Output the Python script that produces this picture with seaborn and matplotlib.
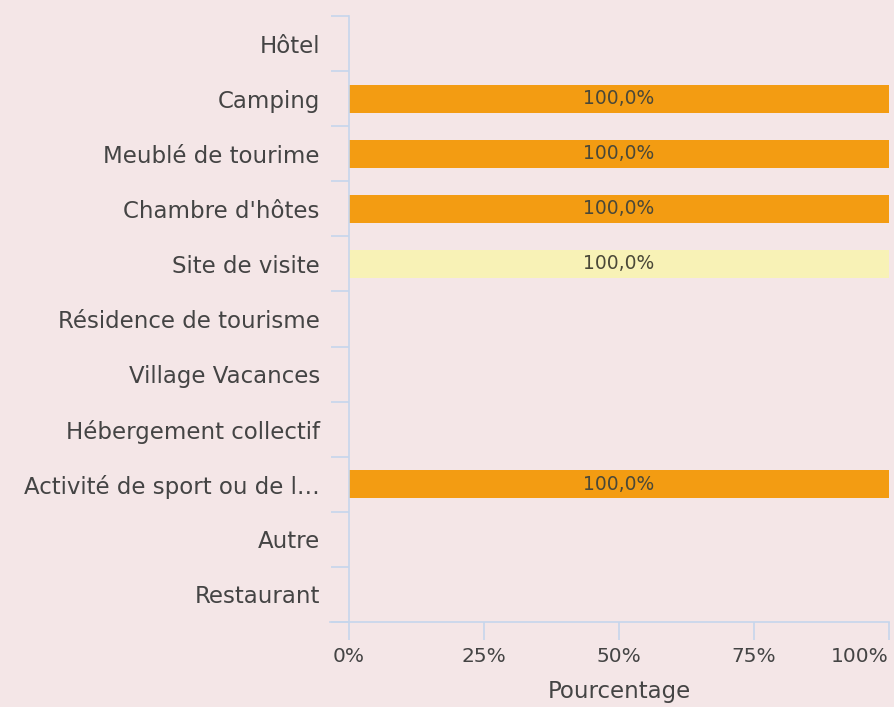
import matplotlib
matplotlib.use("Agg")
import matplotlib.pyplot as plt
import seaborn as sns
import pandas as pd
import numpy as np

categories = ["Hôtel", "Camping", "Meublé de tourime", "Chambre d'hôtes", "Site de visite",
              "Résidence de tourisme", "Village Vacances", "Hébergement collectif",
              "Activité de sport ou de l…", "Autre", "Restaurant"]
values = [0, 100, 100, 100, 100, 0, 0, 0, 100, 0, 0]
bar_colors = ["#F39C12", "#F39C12", "#F39C12", "#F39C12", "#F8F2B6", "#F39C12",
              "#F39C12", "#F39C12", "#F39C12", "#F39C12", "#F39C12"]
x_ticks = [0, 25, 50, 75, 100]
x_ticklabels = ["0%", "25%", "50%", "75%", "100%"]

BG = "#F4E6E7"
AXC = "#C6D6EC"
TXT = "#444444"

sns.set_theme(style="white")
plt.rcParams["font.family"] = ["DejaVu Sans"]

df = pd.DataFrame({"cat": categories, "val": values})
fig = plt.figure(figsize=(8.95, 7.07), dpi=100, facecolor=BG)
ax = fig.add_axes([349/895, 1-622/707, (889-349)/895, (622-16)/707])
ax.set_facecolor(BG)

sns.barplot(data=df, y="cat", x="val", hue="cat", palette=dict(zip(categories, bar_colors)),
            legend=False, ax=ax, width=0.51, orient="h", saturation=1, linewidth=0)

ax.set_xlim(0, 100)
ax.set_ylim(len(categories)-0.5, -0.5)

for cont, v in zip(ax.containers, values):
    if v > 0:
        ax.bar_label(cont, labels=[f"{v:.1f}%".replace(".", ",")], label_type="center",
                     color="#4a4838", fontsize=13.5)

for s in ["top", "right"]:
    ax.spines[s].set_visible(False)
for s in ["left", "bottom"]:
    ax.spines[s].set_color(AXC)
    ax.spines[s].set_linewidth(1.2)
ax.spines["bottom"].set_bounds(-3.5, 100)

ax.set_xticks(x_ticks)
ax.set_xticklabels(x_ticklabels)
ax.get_xticklabels()[-1].set_horizontalalignment("right")
ax.set_yticks(range(len(categories)))
ax.set_yticklabels(categories)
ax.set_yticks(np.arange(-0.5, len(categories), 1.0), minor=True)
ax.tick_params(axis="y", which="major", length=0, pad=21, labelsize=16.5, labelcolor=TXT)
ax.tick_params(axis="y", which="minor", length=13, color=AXC, width=1.2, left=True)
ax.tick_params(axis="x", which="major", length=13, color=AXC, width=1.2, bottom=True,
               labelsize=14.5, labelcolor=TXT, pad=5)
ax.set_ylabel("")
ax.set_xlabel("Pourcentage", fontsize=16.5, color=TXT, labelpad=10)

fig.savefig("out.png", dpi=100, facecolor=BG)
